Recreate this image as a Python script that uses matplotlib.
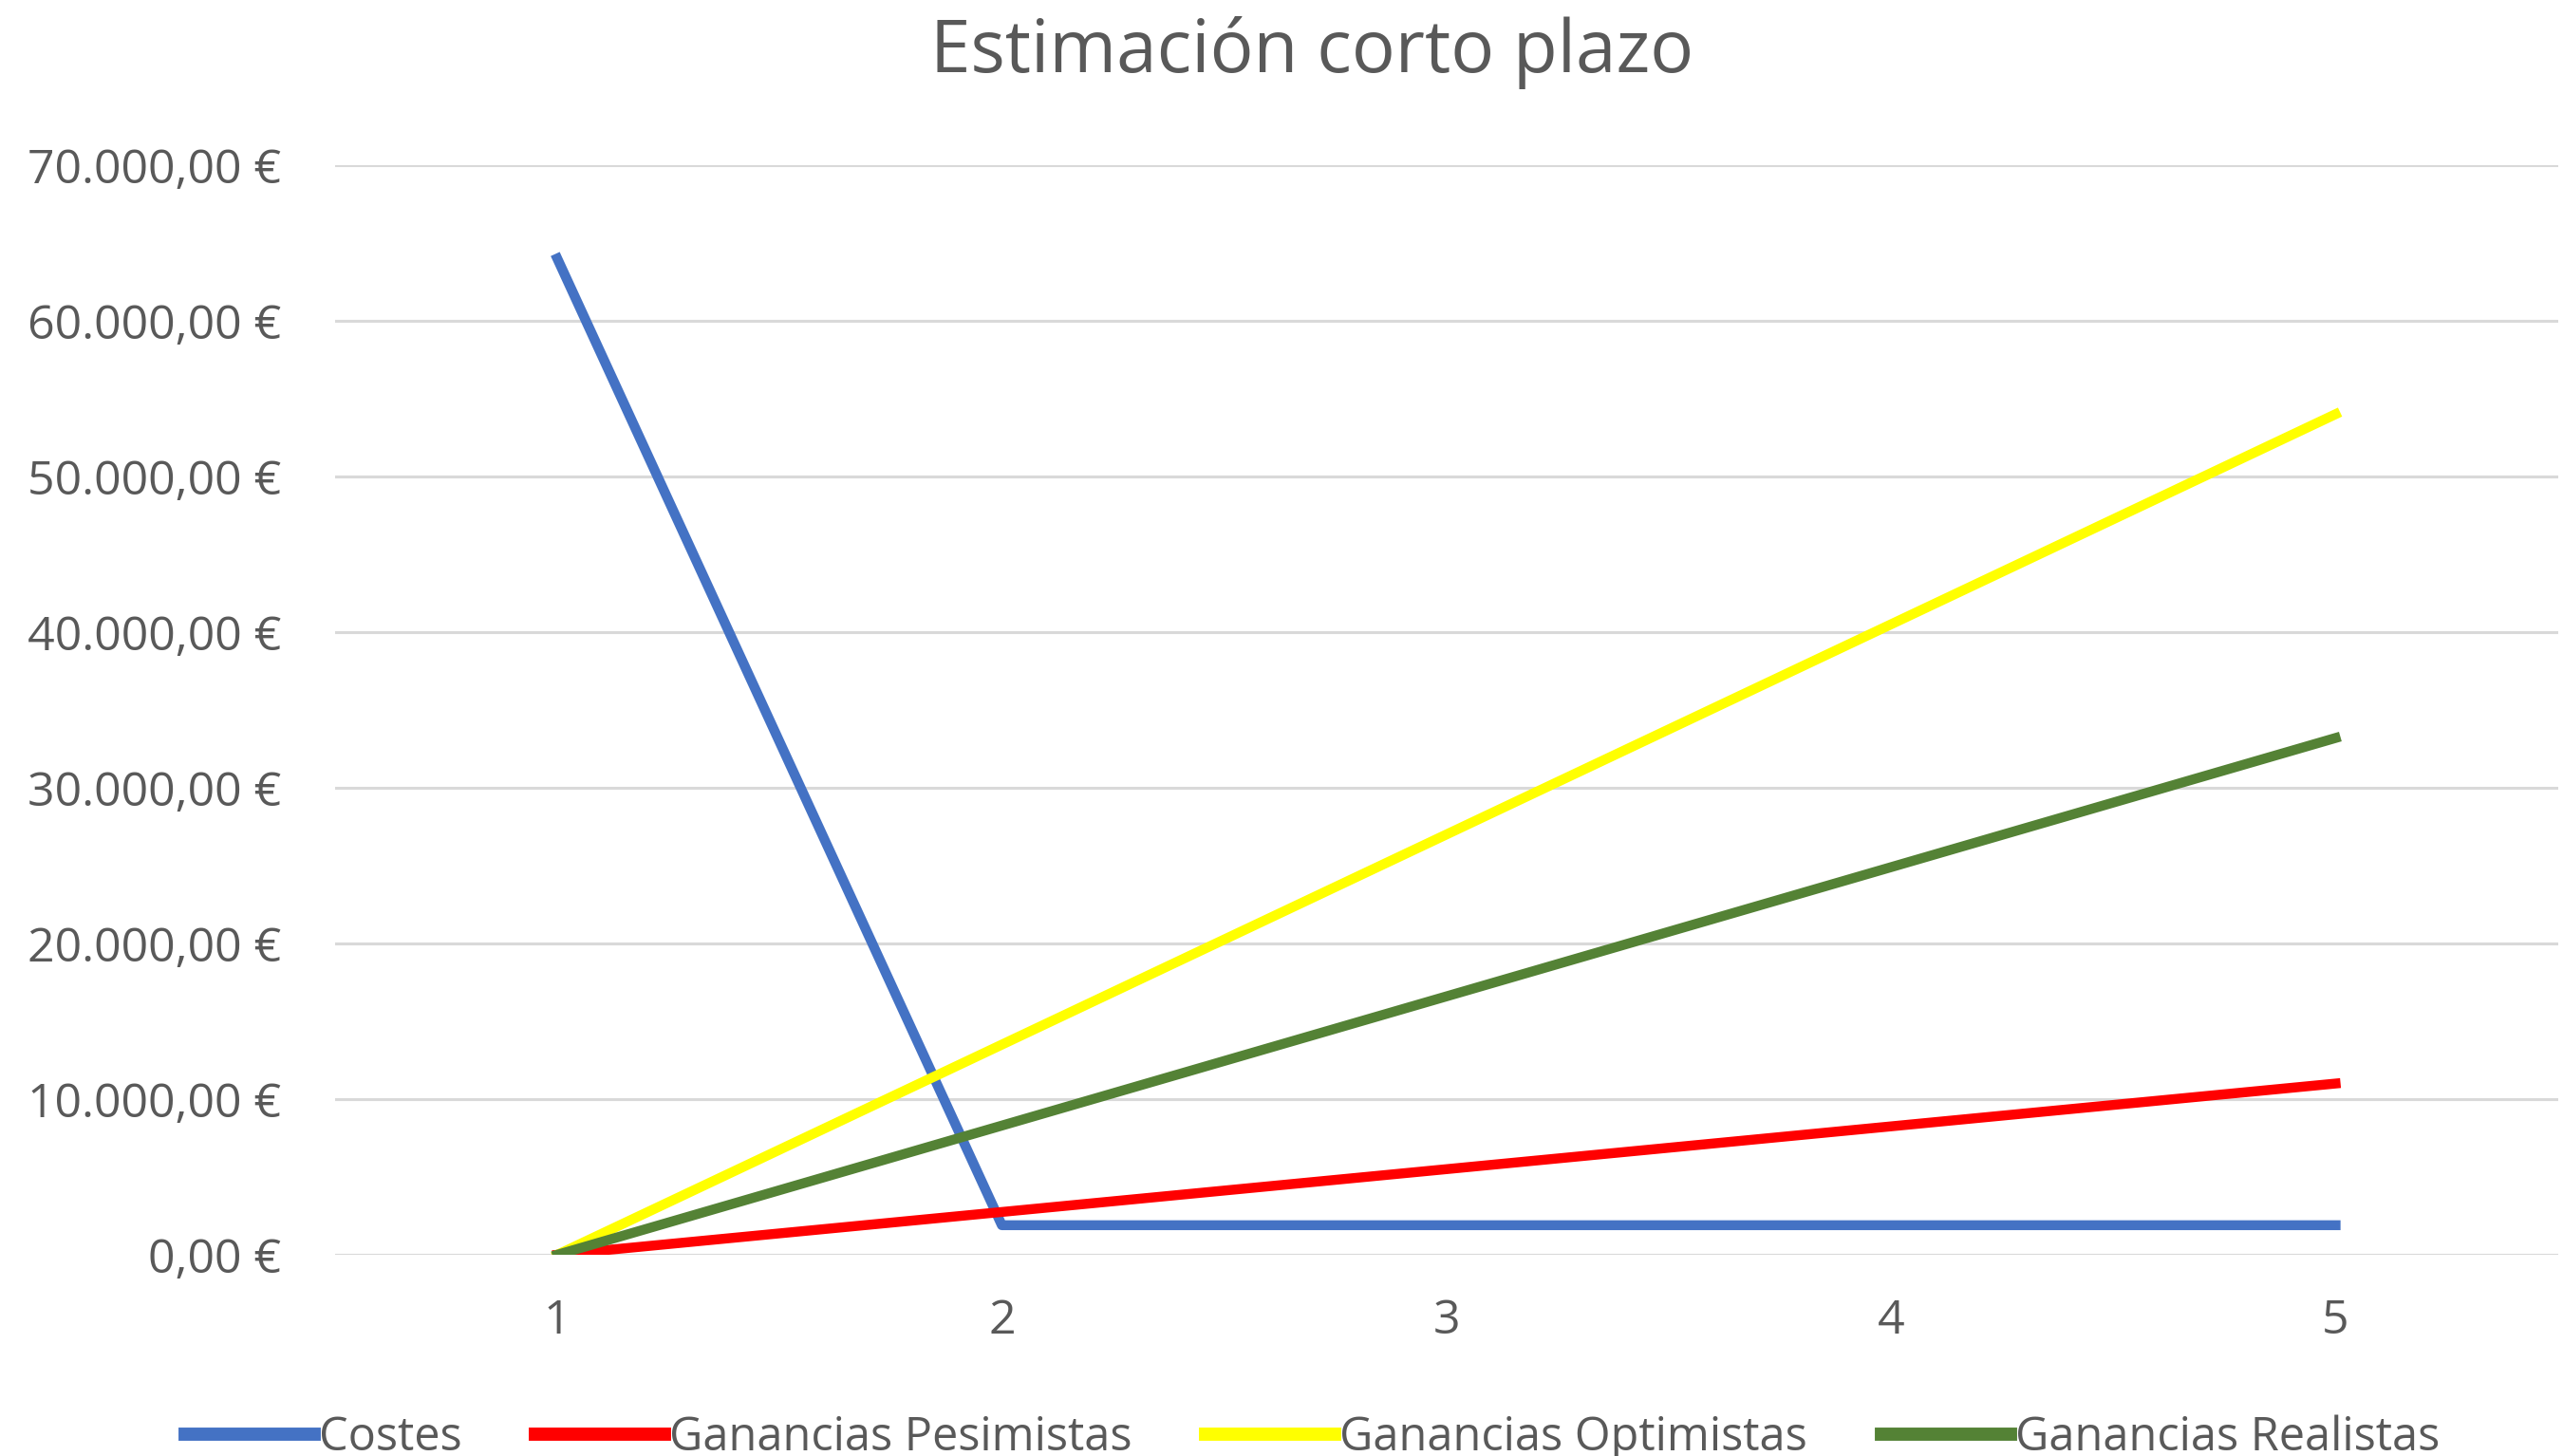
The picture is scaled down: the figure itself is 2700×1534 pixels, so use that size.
import matplotlib
matplotlib.use('Agg')
import matplotlib.pyplot as plt
from matplotlib.ticker import FuncFormatter, MultipleLocator

plt.rcParams['font.family'] = ['Open Sans', 'DejaVu Sans']

# datos
periodos = [1, 2, 3, 4, 5]
costes = [64000, 1900, 1900, 1900, 1900]
pesimistas = [0, 2750, 5500, 8250, 11000]
optimistas = [0, 13500, 27000, 40500, 54000]
realistas = [0, 8300, 16600, 24900, 33200]

nombres = ['Costes', 'Ganancias Pesimistas', 'Ganancias Optimistas', 'Ganancias Realistas']
colores = ['#4472C4', '#FF0000', '#FFFF00', '#548235']

gris = '#595959'


def euros(v, pos):
    s = '{:,.2f}'.format(v)
    s = s.replace(',', 'X').replace('.', ',').replace('X', '.')
    return s + ' €'


fig = plt.figure(figsize=(27, 15.34), dpi=100)
ax = fig.add_axes([0.1307, 0.1382, 0.8673, 0.7484])

for serie, nombre, color in zip([costes, pesimistas, optimistas, realistas], nombres, colores):
    ax.plot(periodos, serie, color=color, linewidth=7.5, label=nombre, solid_capstyle='projecting')

ax.set_xlim(0.5, 5.5)
ax.set_ylim(0, 70000)
ax.yaxis.set_major_locator(MultipleLocator(10000))
ax.yaxis.set_major_formatter(FuncFormatter(euros))
ax.set_xticks(periodos)

ax.grid(axis='y', color='#D9D9D9', linewidth=2.2)
ax.set_axisbelow(True)
for s in ax.spines.values():
    s.set_visible(False)
ax.tick_params(axis='y', length=0, pad=41, labelsize=36, labelcolor=gris)
ax.tick_params(axis='x', length=0, pad=33, labelsize=36, labelcolor=gris)

fig.text(0.512, 0.964, 'Estimación corto plazo', ha='center', va='center',
         fontsize=55, color=gris)

leg = fig.legend(loc='center', bbox_to_anchor=(0.512, 0.012), ncol=4, frameon=False,
                 fontsize=35, labelcolor=gris, handlelength=2.8, handletextpad=0.1,
                 columnspacing=1.6)
for h in leg.get_lines():
    h.set_linewidth(10)

fig.savefig('out.png', dpi=100)
